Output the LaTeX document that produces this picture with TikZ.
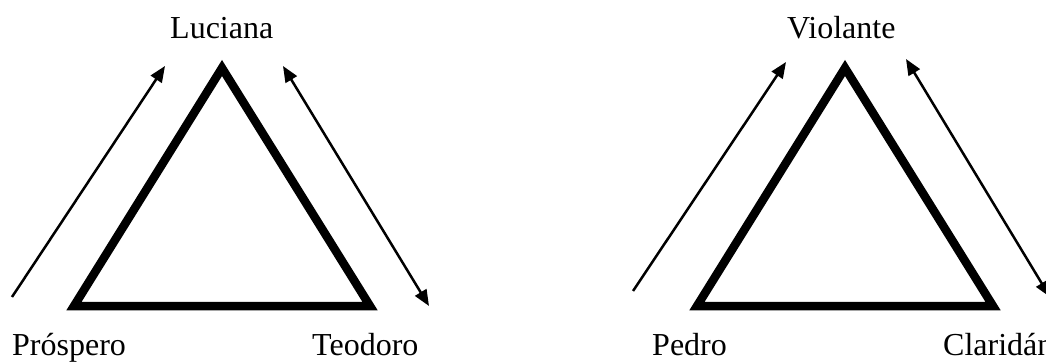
\documentclass[tikz,border=0pt]{standalone}
\usepackage{fontspec}
\setmainfont{Liberation Serif}
\usetikzlibrary{arrows.meta}
\begin{document}
\begin{tikzpicture}[x=1pt,y=-1pt,
  tri/.style={line width=8.5pt,line join=miter},
  tip/.style={},
  rel/.style={line width=2.5pt,-{Triangle[length=16pt,width=13pt]}},
  relboth/.style={line width=2.5pt,{Triangle[length=16pt,width=13pt]}-{Triangle[length=16pt,width=13pt]}},
  lbl/.style={inner sep=0pt,anchor=base west,font=\fontsize{32}{36}\selectfont}]
\useasboundingbox (0,0) rectangle (1046,363);
\clip (0,0) rectangle (1046,363);
% triangle 1
\coordinate (a1) at (222,68);
\coordinate (b1) at (74,306);
\coordinate (c1) at (370,306);
\draw[tri] (a1) -- (b1) -- (c1) -- cycle;
\node[lbl] (luciana) at (170,39) {Luciana};
\node[lbl] (prospero) at (12,355) {Próspero};
\node[lbl] (teodoro) at (312,355) {Teodoro};
\coordinate (l1s) at (12,297);
\coordinate (l1e) at (165,66);
\coordinate (r1s) at (283,66);
\coordinate (r1e) at (429,306);
\draw[rel] (l1s) -- (l1e);
\draw[relboth] (r1s) -- (r1e);
% triangle 2
\coordinate (a2) at (845,68);
\coordinate (b2) at (697,306);
\coordinate (c2) at (993,306);
\draw[tri] (a2) -- (b2) -- (c2) -- cycle;
\node[lbl] (violante) at (787,39) {Violante};
\node[lbl] (pedro) at (652,355) {Pedro};
\node[lbl] (claridan) at (943,355) {Claridán};
\coordinate (l2s) at (633,291);
\coordinate (l2e) at (786,62);
\coordinate (r2s) at (906,59);
\coordinate (r2e) at (1050,297);
\draw[rel] (l2s) -- (l2e);
\draw[relboth] (r2s) -- (r2e);
\end{tikzpicture}
\end{document}
